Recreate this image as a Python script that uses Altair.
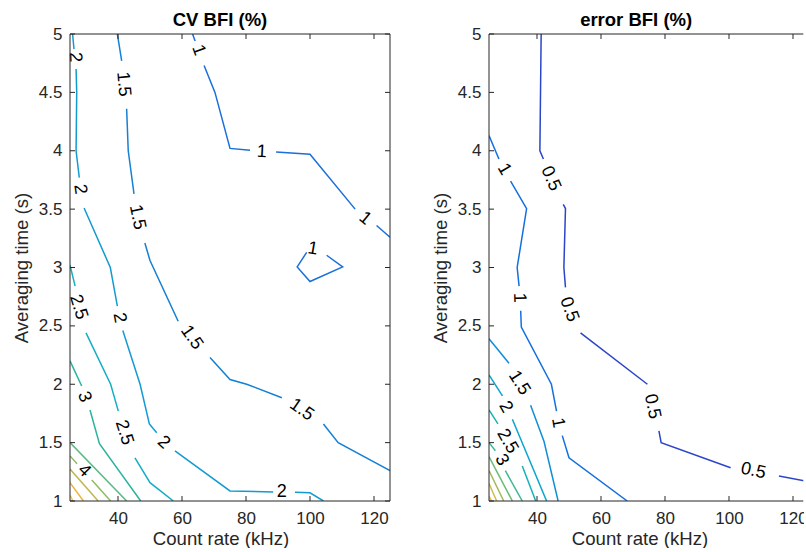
import altair as alt
import pandas as pd

X_TICKS = [40, 60, 80, 100, 120]
Y_TICKS = [1, 1.5, 2, 2.5, 3, 3.5, 4, 4.5, 5]

# ---------------- left panel: CV BFI (%) ----------------
CV_LEVELS = [1, 1.5, 2, 2.5, 3, 3.5, 4, 4.5, 5, 5.5]
CV_COLORS = ["#1a6fdb", "#1580d4", "#139bd1", "#13aec4", "#2bb39f",
             "#5cb981", "#8fbb61", "#bfb84f", "#e8b83d", "#fcc430"]
CV_LINES = {
    1: [[(63.3, 5.0), (64.1, 4.94)],
        [(66.9, 4.73), (70.3, 4.50), (75.0, 4.02), (81.25, 4.005)],
        [(89.4, 3.99), (100, 3.97), (114.1, 3.50)],
        [(120.8, 3.36), (125, 3.26)],
        [(98.96, 3.13), (96.0, 3.005), (100, 2.88), (110.2, 3.005), (105.2, 3.105)]],
    1.5: [[(39.8, 5.0), (41.15, 4.77)],
          [(42.7, 4.36), (43.2, 4.0), (45.0, 3.63)],
          [(48.4, 3.21), (50, 3.06), (58.8, 2.54)],
          [(68.75, 2.23), (75, 2.04), (80.2, 2.0), (91.2, 1.885)],
          [(104.2, 1.66), (108.8, 1.50), (125, 1.26)]],
    2: [[(25.8, 5.0), (26.25, 4.87)],
        [(26.9, 4.70), (27.1, 4.50), (26.9, 4.0), (27.9, 3.77)],
        [(29.4, 3.51), (37.6, 3.0), (39.8, 2.67)],
        [(41.5, 2.46), (46.9, 2.0), (49.8, 1.66), (52.1, 1.585)],
        [(57.8, 1.43), (75, 1.086), (88.5, 1.077)],
        [(95.3, 1.074), (100, 1.07), (104.2, 1.0)]],
    2.5: [[(25, 3.02), (26.6, 2.84)],
          [(30, 2.44), (37.7, 2.0), (40.1, 1.77)],
          [(45.3, 1.37), (50, 1.157), (57.3, 1.0)]],
    3: [[(25, 2.2), (28.65, 1.985)],
        [(31.25, 1.78), (34.2, 1.49), (47.1, 1.0)]],
    3.5: [[(25, 1.5), (42.7, 1.0)]],
    4: [[(25, 1.386), (27.2, 1.32)], [(31.8, 1.18), (37.7, 1.0)]],
    4.5: [[(25, 1.274), (33.8, 1.0)]],
    5: [[(25, 1.157), (29.2, 1.0)]],
    5.5: [[(25, 1.05), (25.9, 1.0)]],
}
CV_LABELS = [
    ("1", 65.1, 4.86, 70), ("1", 84.9, 3.99, 3), ("1", 117.2, 3.42, 39), ("1", 100.9, 3.16, 10),
    ("1.5", 41.67, 4.57, 85), ("1.5", 46.0, 3.43, 78), ("1.5", 63.0, 2.40, 55), ("1.5", 97.4, 1.78, 35),
    ("2", 26.6, 4.80, 87), ("2", 28.1, 3.67, 82), ("2", 40.4, 2.57, 80), ("2", 54.2, 1.50, 42),
    ("2", 91.2, 1.08, 0),
    ("2.5", 27.6, 2.66, 72), ("2.5", 41.9, 1.585, 72),
    ("3", 29.4, 1.89, 70),
    ("4", 29.4, 1.26, 45),
]

# ---------------- right panel: error BFI (%) ----------------
ERR_LEVELS = [0.5, 1, 1.5, 2, 2.5, 3, 3.5, 4, 4.5, 5]
ERR_COLORS = ["#2b45c8", "#1470e0", "#108ed6", "#0aa5cd", "#17b2b5",
              "#3db793", "#6cbb76", "#9fbb5a", "#d1b94a", "#f2b73a"]
ERR_LINES = {
    0.5: [[(41.3, 5.0), (41.1, 4.5), (40.9, 4.0), (42.0, 3.93)],
          [(48.2, 3.54), (48.9, 3.505), (48.4, 3.0), (48.9, 2.83)],
          [(53.6, 2.44), (74.5, 2.0)],
          [(78.1, 1.60), (78.8, 1.5), (100.5, 1.285)],
          [(115.6, 1.214), (125, 1.165)]],
    1: [[(25, 4.13), (28.1, 3.93)],
        [(31.75, 3.74), (36.75, 3.505), (33.8, 3.0), (34.4, 2.84)],
        [(34.9, 2.63), (35.1, 2.49), (44.5, 2.0), (46.1, 1.77)],
        [(47.9, 1.56), (50, 1.37), (68.2, 1.0)]],
    1.5: [[(25, 2.39), (31.25, 2.18)],
          [(38.0, 1.82), (42.2, 1.51), (46.6, 1.0)]],
    2: [[(25, 2.08), (29.2, 1.90)],
        [(32.3, 1.70), (43.0, 1.0)]],
    2.5: [[(25, 1.78), (27.8, 1.66)],
          [(35.4, 1.30), (39.6, 1.0)]],
    3: [[(25, 1.5), (27.0, 1.43)], [(30.1, 1.26), (35.4, 1.0)]],
    3.5: [[(25, 1.38), (32.3, 1.0)]],
    4: [[(25, 1.26), (29.6, 1.0)]],
    4.5: [[(25, 1.15), (27.4, 1.0)]],
    5: [[(25, 1.04), (25.8, 1.0)]],
}
ERR_LABELS = [
    ("0.5", 44.25, 3.76, 66), ("0.5", 50.0, 2.64, 70), ("0.5", 76.0, 1.81, 78), ("0.5", 107.6, 1.257, 12),
    ("1", 29.7, 3.84, 60), ("1", 34.4, 2.74, 88), ("1", 46.5, 1.67, 80),
    ("1.5", 34.4, 2.01, 58), ("2", 30.2, 1.805, 60), ("2.5", 30.7, 1.51, 60), ("3", 28.9, 1.35, 60),
]

H = 467
PX_PER_KHZ = 3.2
FONT = "Liberation Sans"
INK = "#262626"
TL = 5


def panel(title, lines, labels, levels, colors, width, xmax, right_edge):
    cmap = dict(zip(levels, colors))
    rows = []
    for lev, segs in lines.items():
        for si, seg in enumerate(segs):
            for i, (x, y) in enumerate(seg):
                rows.append(dict(level=lev, col=cmap[lev], seg=f"{lev}-{si}", i=i, x=x, y=y))
    df = pd.DataFrame(rows)
    ldf = pd.DataFrame(labels, columns=["t", "x", "y", "a"])
    xs = alt.Scale(domain=[25, xmax], nice=False, zero=False)
    ys = alt.Scale(domain=[1, 5], nice=False, zero=False)
    common = dict(labelFont=FONT, labelFontSize=17, labelColor=INK, titleFont=FONT, titleFontSize=18.6,
                  titleColor=INK, titleFontWeight="normal", ticks=False, domain=False, grid=False)
    ax = alt.Axis(values=X_TICKS, title="Count rate (kHz)", labelPadding=9, titlePadding=3,
                  titleX=150.5, **common)
    ay = alt.Axis(values=Y_TICKS, format="~g", title="Averaging time (s)", labelPadding=8,
                  titlePadding=7, **common)

    ln = alt.Chart(df).mark_line(strokeWidth=1.5, clip=True).encode(
        x=alt.X("x:Q", scale=xs, axis=ax),
        y=alt.Y("y:Q", scale=ys, axis=ay),
        color=alt.Color("col:N", scale=None),
        detail="seg:N",
        order="i:Q",
    )
    tx = alt.Chart(ldf).mark_text(font=FONT, fontSize=18, color="#000000", baseline="middle",
                                  align="center").encode(
        x=alt.X("x:Q", scale=xs, axis=ax), y=alt.Y("y:Q", scale=ys, axis=ay), text="t:N",
        angle=alt.Angle("a:Q", scale=None),
    )
    xt = pd.DataFrame({"x": X_TICKS})
    yt = pd.DataFrame({"y": Y_TICKS})
    rule = dict(color=INK, strokeWidth=1)
    layers = [
        ln, tx,
        alt.Chart(xt).mark_rule(**rule).encode(
            x=alt.X("x:Q", scale=xs, axis=ax), y=alt.value(H), y2=alt.value(H - TL)),
        alt.Chart(xt).mark_rule(**rule).encode(
            x=alt.X("x:Q", scale=xs, axis=ax), y=alt.value(0), y2=alt.value(TL)),
        alt.Chart(yt).mark_rule(**rule).encode(
            y=alt.Y("y:Q", scale=ys, axis=ay), x=alt.value(0), x2=alt.value(TL)),
        # frame: left, top, bottom
        alt.Chart(yt.head(1)).mark_rule(**rule).encode(
            x=alt.value(0), y=alt.value(0), y2=alt.value(H)),
        alt.Chart(yt.head(1)).mark_rule(**rule).encode(
            x=alt.value(0), x2=alt.value(width), y=alt.value(0)),
        alt.Chart(yt.head(1)).mark_rule(**rule).encode(
            x=alt.value(0), x2=alt.value(width), y=alt.value(H)),
    ]
    if right_edge:
        layers += [
            alt.Chart(yt).mark_rule(**rule).encode(
                y=alt.Y("y:Q", scale=ys, axis=ay), x=alt.value(width - TL), x2=alt.value(width)),
            alt.Chart(yt.head(1)).mark_rule(**rule).encode(
                x=alt.value(width), y=alt.value(0), y2=alt.value(H)),
        ]
    return alt.layer(*layers).properties(
        width=width, height=H,
        title=alt.TitleParams(title, font=FONT, fontSize=18.5, fontWeight="bold", color="#000000",
                              offset=-4, anchor="middle", dx=-10),
    )


W_LEFT = 320
W_RIGHT = 314.3
left = panel("CV BFI (%)", CV_LINES, CV_LABELS, CV_LEVELS, CV_COLORS, W_LEFT, 125, True)
right = panel("error BFI (%)", ERR_LINES, ERR_LABELS, ERR_LEVELS, ERR_COLORS, W_RIGHT,
              25 + W_RIGHT / PX_PER_KHZ, False)

chart = alt.hconcat(left, right, spacing=40).properties(
    padding={"left": 12, "top": 10, "right": -4, "bottom": 0},
    background="white",
).configure_view(stroke=None)

chart.save("out.html", embed_options={"renderer": "svg", "actions": False})
